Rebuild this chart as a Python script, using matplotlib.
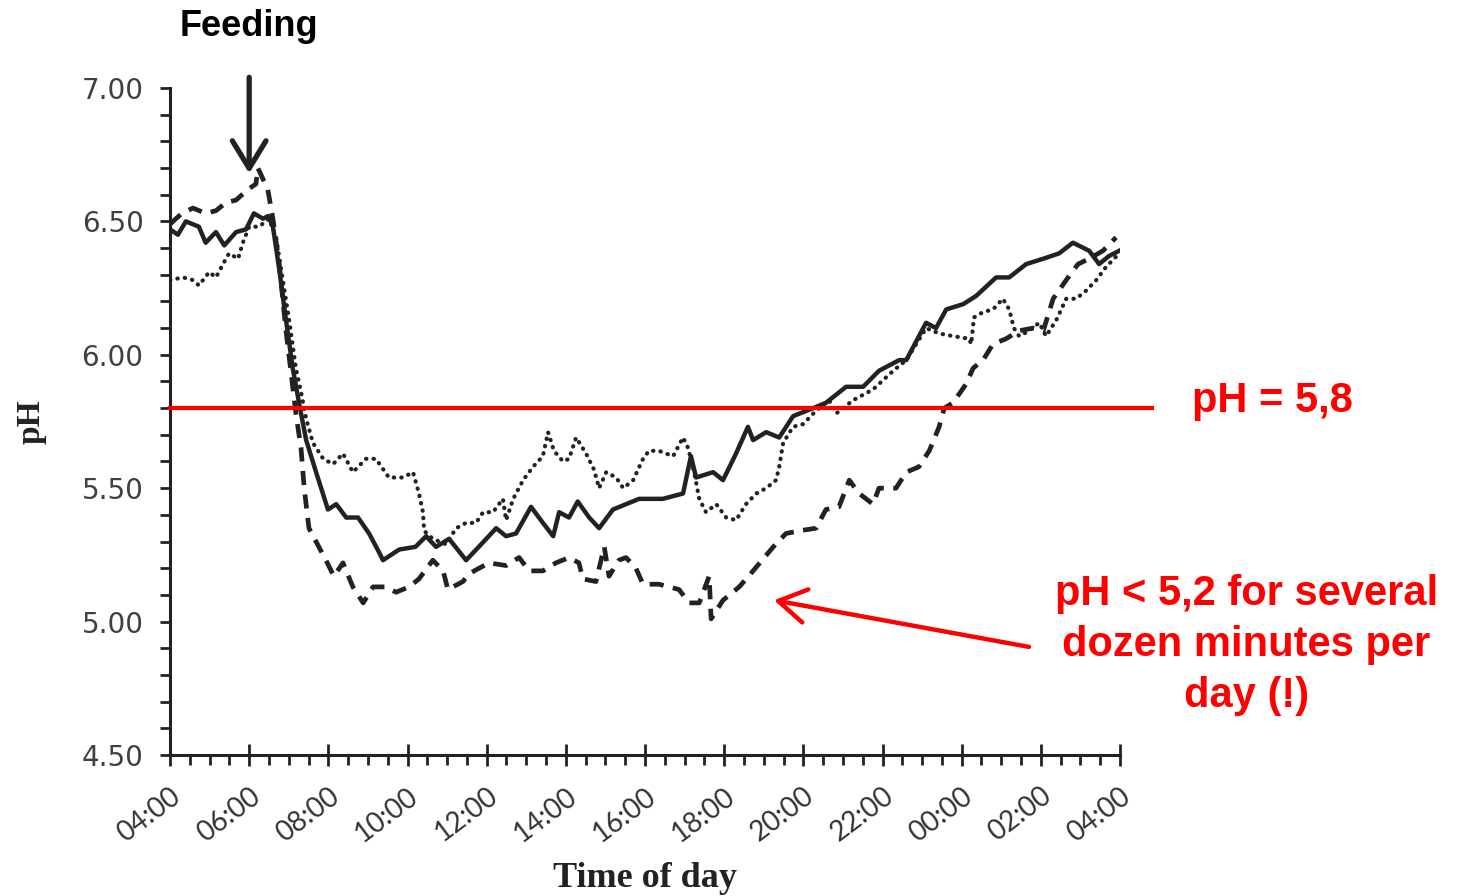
import matplotlib.pyplot as plt
import matplotlib
import numpy as np
from matplotlib.ticker import MultipleLocator

# hours since 04:00 and pH readings
solid_t = [0.0, 0.2, 0.4, 0.73, 0.9, 1.16, 1.37, 1.67, 1.92, 2.12, 2.35, 2.48, 2.6, 2.76, 2.93,
           3.1, 3.26, 3.44, 3.69, 3.99, 4.2, 4.45, 4.75, 5.03, 5.28, 5.38, 5.79, 6.2, 6.47, 6.72,
           7.05, 7.48, 7.8, 8.24, 8.49, 8.74, 9.12, 9.42, 9.68, 9.83, 10.08, 10.3, 10.59, 10.84,
           11.19, 11.52, 11.85, 12.45, 12.96, 13.16, 13.29, 13.72, 13.97, 14.3, 14.6, 14.73,
           15.06, 15.39, 15.74, 16.25, 16.57, 17.08, 17.51, 17.91, 18.42, 18.6, 19.1, 19.35,
           19.61, 20.04, 20.36, 20.87, 21.2, 21.63, 22.06, 22.46, 22.81, 23.22, 23.47, 23.72, 23.98]
solid_ph = [6.47, 6.45, 6.50, 6.48, 6.42, 6.46, 6.41, 6.46, 6.47, 6.53, 6.51, 6.52, 6.48, 6.32, 6.13,
            5.95, 5.82, 5.68, 5.56, 5.42, 5.44, 5.39, 5.39, 5.33, 5.26, 5.23, 5.27, 5.28, 5.32, 5.28,
            5.31, 5.23, 5.28, 5.35, 5.32, 5.33, 5.43, 5.37, 5.32, 5.41, 5.39, 5.45, 5.39, 5.35,
            5.42, 5.44, 5.46, 5.46, 5.48, 5.62, 5.54, 5.56, 5.53, 5.63, 5.73, 5.68,
            5.71, 5.69, 5.77, 5.80, 5.82, 5.88, 5.88, 5.94, 5.98, 5.98, 6.12, 6.10,
            6.17, 6.19, 6.22, 6.29, 6.29, 6.34, 6.36, 6.38, 6.42, 6.39, 6.34, 6.37, 6.39]

dash_t = [0.0, 0.3, 0.58, 0.9, 1.16, 1.41, 1.67, 1.97, 2.17, 2.22, 2.47, 2.6, 2.76, 2.93, 3.06,
          3.18, 3.31, 3.39, 3.51, 3.76, 3.94, 4.14, 4.37, 4.62, 4.88, 5.13, 5.46, 5.71, 6.04, 6.29,
          6.64, 6.9, 7.02, 7.4, 7.56, 8.06, 8.49, 8.82, 9.07, 9.42, 9.75, 10.08, 10.33, 10.43,
          10.76, 10.97, 11.09, 11.34, 11.52, 11.77, 11.95, 12.35, 12.86, 13.11, 13.37, 13.62,
          13.67, 13.97, 14.38, 14.73, 15.24, 15.56, 15.89, 16.32, 16.57, 16.9, 17.16, 17.41,
          17.76, 17.91, 18.34, 18.6, 18.92, 19.18, 19.43, 19.56, 19.78, 20.11, 20.29, 20.54,
          20.79, 21.12, 21.45, 21.8, 22.06, 22.31, 22.64, 22.94, 23.22, 23.57, 23.9]
dash_ph = [6.49, 6.53, 6.55, 6.53, 6.54, 6.57, 6.58, 6.62, 6.64, 6.70, 6.62, 6.51, 6.34, 6.09, 5.93,
           5.78, 5.65, 5.50, 5.35, 5.28, 5.23, 5.17, 5.22, 5.13, 5.07, 5.13, 5.13, 5.11, 5.13, 5.16,
           5.23, 5.19, 5.12, 5.15, 5.18, 5.22, 5.21, 5.24, 5.19, 5.19, 5.22, 5.24, 5.22, 5.16,
           5.15, 5.28, 5.17, 5.23, 5.24, 5.20, 5.14, 5.14, 5.12, 5.07, 5.07, 5.17,
           5.01, 5.08, 5.13, 5.19, 5.28, 5.33, 5.34, 5.35, 5.42, 5.43, 5.53, 5.48,
           5.44, 5.50, 5.50, 5.56, 5.58, 5.64, 5.73, 5.80, 5.82, 5.89, 5.95, 5.98,
           6.04, 6.06, 6.09, 6.10, 6.09, 6.21, 6.28, 6.34, 6.36, 6.39, 6.44]

dot_t = [0.0, 0.33, 0.58, 0.73, 0.99, 1.16, 1.34, 1.49, 1.72, 1.84, 2.0, 2.25, 2.5, 2.68, 2.85,
         3.01, 3.18, 3.31, 3.44, 3.61, 3.87, 4.12, 4.37, 4.62, 4.95, 5.2, 5.53, 5.89, 6.14, 6.29,
         6.39, 6.42, 6.64, 6.97, 7.23, 7.48, 7.73, 7.91, 8.16, 8.41, 8.49, 8.67, 8.92, 9.17,
         9.42, 9.55, 9.7, 9.93, 10.08, 10.26, 10.51, 10.71, 10.84, 11.02, 11.27, 11.45, 11.7,
         11.95, 12.1, 12.35, 12.71, 12.96, 13.09, 13.24, 13.37, 13.54, 13.8, 14.05, 14.3, 14.55,
         14.81, 15.06, 15.31, 15.39, 15.49, 15.74, 15.99, 16.32, 16.65, 16.83, 17.26, 17.76,
         18.27, 18.6, 19.1, 19.43, 19.78, 20.19, 20.24, 20.31, 20.54, 20.79, 21.04, 21.2, 21.32,
         21.45, 21.7, 21.96, 22.13, 22.39, 22.64, 22.89, 23.14, 23.4, 23.65, 23.98]
dot_ph = [6.28, 6.29, 6.28, 6.26, 6.31, 6.29, 6.34, 6.38, 6.36, 6.42, 6.48, 6.48, 6.51, 6.44, 6.28,
          6.13, 5.95, 5.86, 5.76, 5.67, 5.61, 5.59, 5.63, 5.56, 5.61, 5.61, 5.54, 5.54, 5.56, 5.48,
          5.41, 5.34, 5.31, 5.29, 5.35, 5.37, 5.37, 5.41, 5.41, 5.46, 5.38, 5.46, 5.53, 5.58,
          5.62, 5.71, 5.64, 5.60, 5.61, 5.69, 5.63, 5.57, 5.50, 5.56, 5.54, 5.50, 5.53,
          5.61, 5.64, 5.64, 5.62, 5.69, 5.65, 5.56, 5.46, 5.41, 5.44, 5.39, 5.38, 5.44,
          5.48, 5.50, 5.53, 5.58, 5.67, 5.73, 5.74, 5.79, 5.83, 5.78, 5.83, 5.87,
          5.94, 5.98, 6.10, 6.08, 6.07, 6.06, 6.04, 6.14, 6.16, 6.17, 6.21, 6.17, 6.10,
          6.07, 6.09, 6.12, 6.07, 6.13, 6.21, 6.21, 6.24, 6.28, 6.33, 6.38]

tick_labels = ['04:00', '06:00', '08:00', '10:00', '12:00', '14:00', '16:00',
               '18:00', '20:00', '22:00', '00:00', '02:00', '04:00']
threshold = 5.8

fig = plt.figure(figsize=(14.58, 8.96), dpi=100)
ax = fig.add_axes([0.1166, 0.1574, 0.6516, 0.7444])

ink = '#222222'
ax.plot(solid_t, solid_ph, color=ink, lw=3.2, solid_joinstyle='round')
ax.plot(dash_t, dash_ph, color=ink, lw=3.4, dashes=(3, 2), dash_capstyle='butt')
ax.plot(dot_t, dot_ph, color=ink, lw=3.0, dashes=(0.1, 1.7), dash_capstyle='round')

# pH threshold line, runs a little past the axis end
ax.plot([0, 24.8], [threshold, threshold], color='#ff0000', lw=3, clip_on=False, zorder=5)

ax.set_xlim(0, 24)
ax.set_ylim(4.5, 7.0)
ax.set_xticks(np.arange(0, 25, 2))
ax.set_xticklabels(tick_labels, rotation=37, ha='right', va='top', rotation_mode='anchor',
                   family='Lato', fontsize=20, color='#333333')
ax.xaxis.set_minor_locator(MultipleLocator(0.5))
ax.set_yticks(np.arange(4.5, 7.01, 0.5))
ax.set_yticklabels(['%.2f' % v for v in np.arange(4.5, 7.01, 0.5)],
                   family='DejaVu Sans', fontsize=20, color='#404040')
ax.yaxis.set_minor_locator(MultipleLocator(0.1))

ax.tick_params(axis='x', which='major', direction='inout', length=16, width=2, color=ink, pad=12)
ax.tick_params(axis='x', which='minor', direction='out', length=7, width=2, color=ink)
ax.tick_params(axis='y', which='both', direction='out', length=7, width=2, color=ink, pad=12)

for s in ['top', 'right']:
    ax.spines[s].set_visible(False)
for s in ['left', 'bottom']:
    ax.spines[s].set_linewidth(2.2)
    ax.spines[s].set_color(ink)

ax.set_xlabel('Time of day', family='Liberation Serif', fontweight='bold', fontsize=26, color=ink)
ax.xaxis.set_label_coords(0.5, -0.16)
ax.set_ylabel('pH', family='Liberation Serif', fontweight='bold', fontsize=24, color=ink)
ax.yaxis.set_label_coords(-0.13, 0.5)

# feeding marker
ax.annotate('', xy=(2.0, 6.68), xytext=(2.0, 7.04), annotation_clip=False,
            arrowprops=dict(arrowstyle='->,head_length=0.9,head_width=0.55', color=ink,
                            lw=3.8, mutation_scale=22, shrinkA=0, shrinkB=0))
ax.text(2.0, 7.23, 'Feeding', ha='center', va='center', family='Liberation Sans',
        fontweight='bold', fontsize=26, color='black', clip_on=False)

red = '#ff0000'
fig.text(0.873, 0.5525, 'pH = 5,8', ha='center', va='center', family='Liberation Sans',
         fontweight='bold', fontsize=30, color=red)
fig.text(0.855, 0.28, 'pH < 5,2 for several\ndozen minutes per\nday (!)', ha='center',
         va='center', family='Liberation Sans', fontweight='bold', fontsize=30, color=red,
         linespacing=1.35)
ax.annotate('', xy=(15.26, 5.08), xytext=(21.70, 4.905), annotation_clip=False,
            arrowprops=dict(arrowstyle='->,head_length=0.9,head_width=0.55', color=red,
                            lw=3.2, mutation_scale=22, shrinkA=0, shrinkB=0))

fig.savefig('out.png', dpi=100)
